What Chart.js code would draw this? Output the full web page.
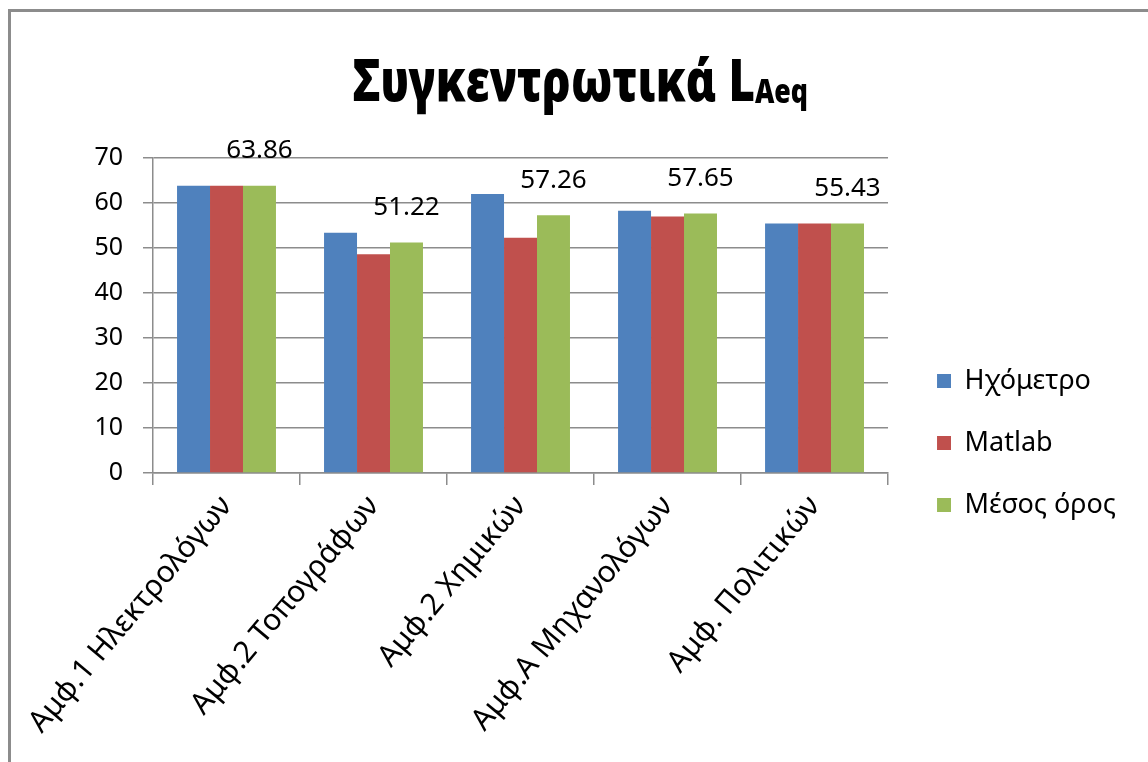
<!DOCTYPE html>
<html>
<head>
<meta charset="utf-8">
<script src="https://cdn.jsdelivr.net/npm/chart.js@4.4.1/dist/chart.umd.min.js"></script>
<style>
html, body { margin: 0; padding: 0; background: #fff; }
#wrap { position: relative; width: 1148px; height: 762px; overflow: hidden; }
#frame { position: absolute; left: 8px; top: 9px; width: 1300px; height: 900px;
  border-left: 3px solid #8c8c8c; border-top: 3px solid #8c8c8c; }
#title { position: absolute; left: 0; top: 44px; width: 1160px; text-align: center; color: #000;
  font: bold 58px/70px "Noto Sans", "Open Sans", sans-serif; }
#title b { display: inline-block; transform: scaleX(0.785); transform-origin: center; }
#title span { font-size: 34px; vertical-align: -2px; }
canvas { position: absolute; left: 0; top: 0; }
</style>
</head>
<body>
<div id="wrap">
  <div id="frame"></div>
  <canvas id="chart" width="1148" height="762"></canvas>
  <div id="title"><b>Συγκεντρωτικά L<span>Aeq</span></b></div>
</div>
<script>
// Αμφιθέατρα
var amfitheatra = ['Αμφ.1 Ηλεκτρολόγων', 'Αμφ.2 Τοπογράφων', 'Αμφ.2 Χημικών', 'Αμφ.Α Μηχανολόγων', 'Αμφ. Πολιτικών'];

// τιμές LAeq ανά σειρά
var hxometro = [63.86, 53.4, 62.0, 58.3, 55.43];
var matlab = [63.86, 48.6, 52.3, 57.0, 55.43];
var mesos = [63.86, 51.22, 57.26, 57.65, 55.43];

var yTicks = [0, 10, 20, 30, 40, 50, 60, 70];

var grami = '#8c8c8c';
var gramma = '"Noto Sans", "Open Sans", sans-serif';

// ετικέτες τιμών πάνω από τη σειρά "Μέσος όρος"
var etiketes = {
    id: 'etiketes',
    afterDatasetsDraw: function(chart) {
        var ctx = chart.ctx;
        var meta = chart.getDatasetMeta(2);
        ctx.save();
        ctx.font = '26px ' + gramma;
        ctx.fillStyle = '#000';
        ctx.textAlign = 'center';
        ctx.textBaseline = 'middle';
        meta.data.forEach(function(bar, i) {
            ctx.fillText(mesos[i].toFixed(2), bar.x, bar.y - 35);
        });
        ctx.restore();
    }
};

// μετακίνηση υπομνήματος όπως στο πρωτότυπο
var metakinisi = {
    id: 'metakinisi',
    afterLayout: function(chart) {
        var l = chart.legend;
        l.left += 14; l.right += 14;
        l.top -= 17; l.bottom -= 17;
    }
};

new Chart(document.getElementById('chart'), {
    type: 'bar',
    data: {
        labels: amfitheatra,
        datasets: [
            { label: 'Ηχόμετρο', data: hxometro, backgroundColor: '#4F81BD' },
            { label: 'Matlab', data: matlab, backgroundColor: '#C0504D' },
            { label: 'Μέσος όρος', data: mesos, backgroundColor: '#9BBB59' }
        ]
    },
    options: {
        responsive: false,
        animation: false,
        layout: { padding: { top: 158, right: 36, left: 0, bottom: 0 } },
        datasets: { bar: { barPercentage: 1, categoryPercentage: 0.673 } },
        plugins: {
            title: { display: false },
            tooltip: { enabled: false },
            legend: {
                position: 'right',
                labels: {
                    boxWidth: 14,
                    boxHeight: 14,
                    padding: 35,
                    color: '#000',
                    font: { family: gramma, size: 27 }
                }
            }
        },
        scales: {
            x: {
                grid: { offset: true, drawOnChartArea: false, drawTicks: true, tickLength: 12, color: grami, lineWidth: 1.5 },
                border: { color: grami, width: 1.5 },
                ticks: { color: '#000', minRotation: 50, maxRotation: 50, padding: 4, font: { family: gramma, size: 30 } },
                afterFit: function(s) { s.height = 762 - 473; }
            },
            y: {
                min: 0,
                max: 70,
                afterBuildTicks: function(s) { s.ticks = yTicks.map(function(v) { return { value: v }; }); },
                grid: { color: grami, lineWidth: 1.5, drawTicks: true, tickLength: 10 },
                border: { color: grami, width: 1.5 },
                ticks: { color: '#000', padding: 20, font: { family: gramma, size: 25 } },
                afterFit: function(s) { s.width = 153; }
            }
        }
    },
    plugins: [etiketes, metakinisi]
});
</script>
</body>
</html>
